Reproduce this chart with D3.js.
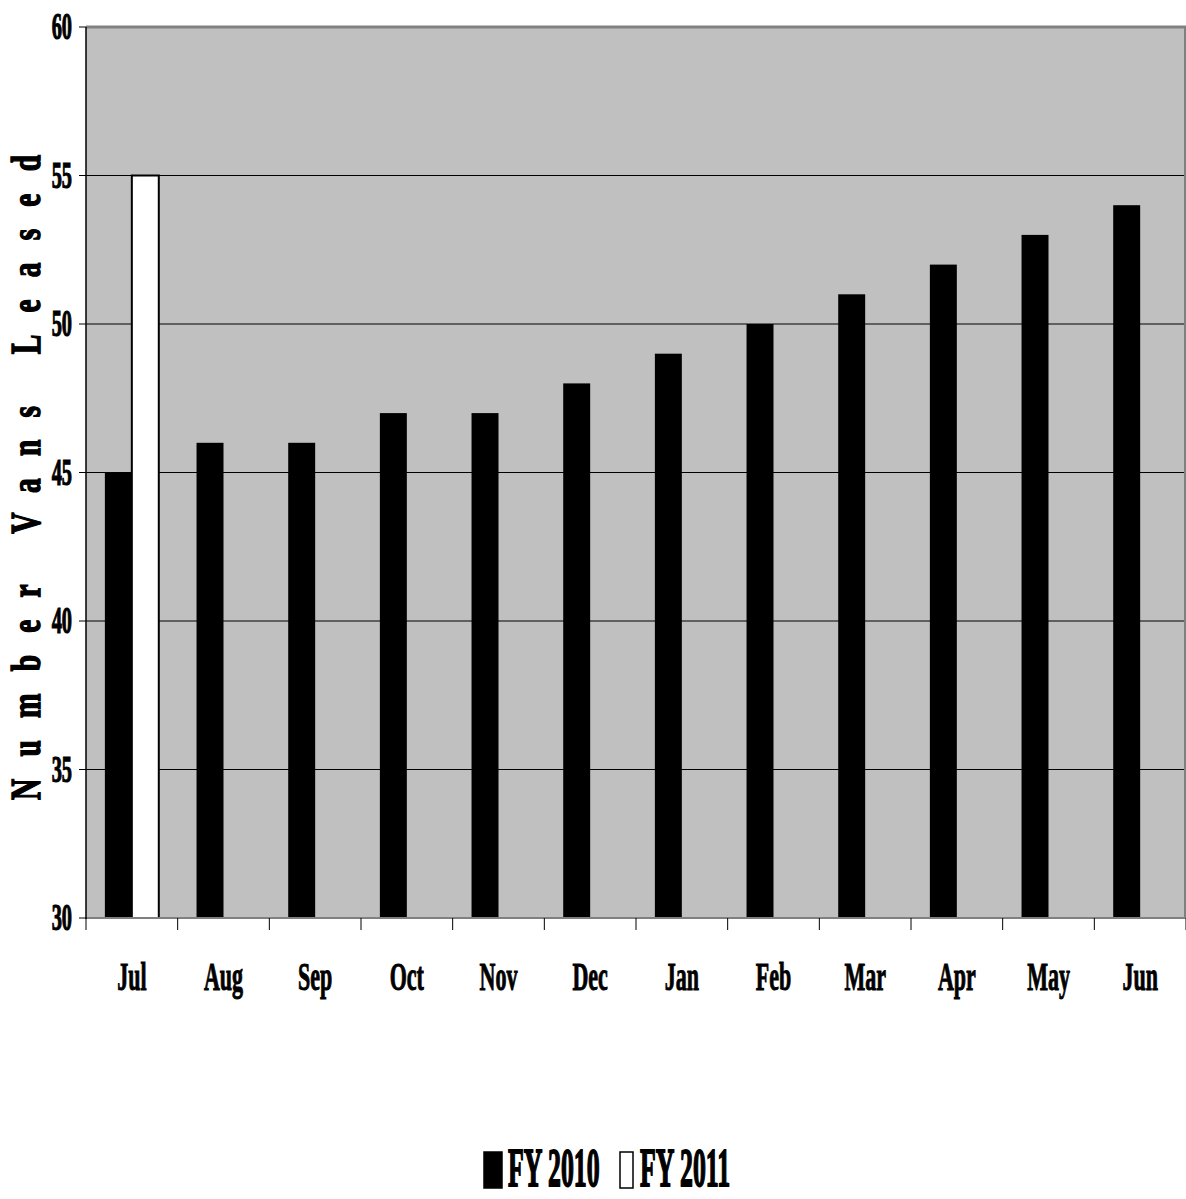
<!DOCTYPE html>
<html><head><meta charset="utf-8">
<script src="https://cdn.jsdelivr.net/npm/d3@7"></script>
<style>html,body{margin:0;padding:0;background:#fff;}svg{display:block;}</style>
</head><body>
<script>
const months = ["Jul","Aug","Sep","Oct","Nov","Dec","Jan","Feb","Mar","Apr","May","Jun"];
const seriesNames = ["FY 2010","FY 2011"];
const fy2010 = [45,46,46,47,47,48,49,50,51,52,53,54];
const fy2011 = [55,null,null,null,null,null,null,null,null,null,null,null];
const yTicks = [30,35,40,45,50,55,60];
const yTitle = "Number Vans Leased";

const W = 1186, H = 1199;
const L = 86, R = 1186, T = 27, B = 918;
const font = "'Liberation Serif','Times New Roman',serif";

const svg = d3.select("body").append("svg").attr("width", W).attr("height", H);

const x = d3.scaleBand().domain(months).range([L, R]).paddingInner(0).paddingOuter(0);
const xs = d3.scaleBand().domain(seriesNames).range([0, x.bandwidth()]).paddingInner(0).paddingOuter(0.7);
const y = d3.scaleLinear().domain([30, 60]).range([B, T]);

// plot background
svg.append("rect").attr("x", L).attr("y", T).attr("width", R - L).attr("height", B - T).attr("fill", "#c0c0c0");

// gridlines
svg.append("g").selectAll("line").data(yTicks.filter(d => d > 30 && d < 60)).join("line")
  .attr("x1", L).attr("x2", R).attr("y1", d => y(d)).attr("y2", d => y(d))
  .attr("stroke", "#000").attr("stroke-width", 1);

// borders
svg.append("line").attr("x1", L).attr("x2", R).attr("y1", T).attr("y2", T).attr("stroke", "#808080").attr("stroke-width", 3);
svg.append("line").attr("x1", R - 1).attr("x2", R - 1).attr("y1", T).attr("y2", B).attr("stroke", "#808080").attr("stroke-width", 2);

// bars
const data = [];
months.forEach((m, i) => {
  data.push({m, s: "FY 2010", v: fy2010[i]});
  if (fy2011[i] != null) data.push({m, s: "FY 2011", v: fy2011[i]});
});
svg.append("g").selectAll("rect").data(data).join("rect")
  .attr("x", d => x(d.m) + xs(d.s))
  .attr("width", xs.bandwidth())
  .attr("y", d => y(d.v))
  .attr("height", d => y(30) - y(d.v))
  .attr("fill", d => d.s === "FY 2010" ? "#000" : "#fff")
  .attr("stroke", d => d.s === "FY 2010" ? "none" : "#000")
  .attr("stroke-width", 2);

// axes lines
svg.append("line").attr("x1", L).attr("x2", R).attr("y1", B).attr("y2", B).attr("stroke", "#808080").attr("stroke-width", 2);
svg.append("line").attr("x1", L).attr("x2", L).attr("y1", T).attr("y2", B + 1).attr("stroke", "#000").attr("stroke-width", 1.5);

// y ticks
svg.append("g").selectAll("line").data(yTicks).join("line")
  .attr("x1", L - 7).attr("x2", L).attr("y1", d => y(d)).attr("y2", d => y(d))
  .attr("stroke", "#000").attr("stroke-width", 1);
svg.append("g").selectAll("text").data(yTicks).join("text")
  .attr("transform", d => `translate(${L - 14},${y(d) + 12}) scale(0.55,1)`)
  .attr("text-anchor", "end")
  .attr("font-family", font).attr("font-weight", "bold").attr("font-size", 37)
  .attr("stroke", "#000").attr("stroke-width", 1.2)
  .text(d => d);

// x ticks
const bounds = months.map(m => x(m)).concat([R]);
svg.append("g").selectAll("line").data(bounds).join("line")
  .attr("x1", d => d).attr("x2", d => d).attr("y1", B).attr("y2", B + 12)
  .attr("stroke", "#000").attr("stroke-width", 1);
svg.append("g").selectAll("text").data(months).join("text")
  .attr("transform", d => `translate(${x(d) + x.bandwidth() / 2},${990}) scale(0.55,1)`)
  .attr("text-anchor", "middle")
  .attr("font-family", font).attr("font-weight", "bold").attr("font-size", 40)
  .attr("stroke", "#000").attr("stroke-width", 1)
  .text(d => d);

// y title
const sx = 0.7;
svg.append("text")
  .attr("transform", `translate(40,800) rotate(-90) scale(${sx},1)`)
  .attr("text-anchor", "start")
  .attr("font-family", font).attr("font-weight", "bold").attr("font-size", 42)
  .attr("stroke", "#000").attr("stroke-width", 1.5)
  .attr("textLength", 645 / sx).attr("lengthAdjust", "spacing")
  .text(yTitle);

// legend
const legend = [
  {name: seriesNames[0], bx: 484, bw: 18, tx: 508, fill: "#000"},
  {name: seriesNames[1], bx: 620, bw: 13, tx: 640, fill: "#fff"}
];
const lg = svg.append("g");
lg.selectAll("rect").data(legend).join("rect")
  .attr("x", d => d.bx).attr("y", 1152).attr("width", d => d.bw).attr("height", 36)
  .attr("fill", d => d.fill).attr("stroke", "#000").attr("stroke-width", 1.5);
lg.selectAll("text").data(legend).join("text")
  .attr("transform", d => `translate(${d.tx},1186) scale(0.47,1)`)
  .attr("font-family", font).attr("font-weight", "bold").attr("font-size", 55)
  .attr("stroke", "#000").attr("stroke-width", 1.8)
  .text(d => d.name);
</script>
</body></html>
